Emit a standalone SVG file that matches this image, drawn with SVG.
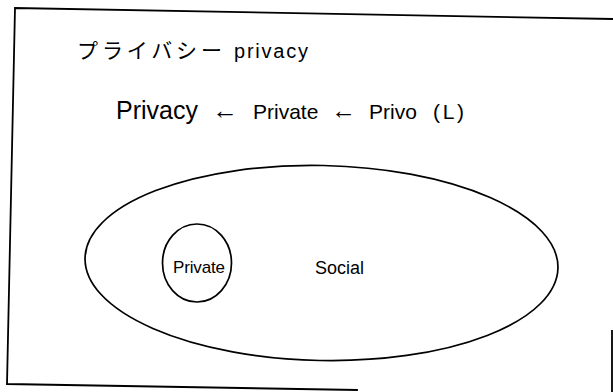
<svg xmlns="http://www.w3.org/2000/svg" width="613" height="392" viewBox="0 0 613 392">
<style>
.frame{stroke:#000;stroke-width:1.8;fill:none;stroke-linecap:square}
.shape{stroke:#000;stroke-width:1.7;fill:none}
.t{font-family:"Liberation Sans",Arial,"Noto Sans CJK JP",sans-serif;fill:#000}
.jp{font-family:"Noto Sans CJK JP","Liberation Sans",sans-serif;fill:#000}
.arr{font-family:"Liberation Sans",Arial,sans-serif;fill:#000;font-size:25px}
</style>
<rect width="613" height="392" fill="#fff"/>
<g id="frame">
<polyline class="frame" points="613,19 15,8 7,384 357,390"/>
<line class="frame" x1="612" y1="331" x2="612" y2="392"/>
</g>
<g id="title">
<text class="jp" x="77" y="58" font-size="21" textLength="145" lengthAdjust="spacing">プライバシー</text>
<text class="t" x="234" y="58" font-size="20" textLength="74" lengthAdjust="spacing">privacy</text>
</g>
<g id="etymology">
<text class="t" x="116" y="119" font-size="25">Privacy</text>
<text class="arr" x="212" y="119" textLength="26" lengthAdjust="spacingAndGlyphs">←</text>
<text class="t" x="253" y="119" font-size="21">Private</text>
<text class="arr" x="331" y="119" textLength="25" lengthAdjust="spacingAndGlyphs">←</text>
<text class="t" x="369" y="119" font-size="21">Privo</text>
<text class="t" x="433" y="119" font-size="21" textLength="31" lengthAdjust="spacing">(L)</text>
</g>
<g id="social">
<ellipse class="shape" cx="321.5" cy="263" rx="236.5" ry="97.5" transform="rotate(1.2 321.5 263)"/>
<text class="t" x="315" y="274" font-size="18">Social</text>
</g>
<g id="private">
<ellipse class="shape" cx="197" cy="263" rx="34.5" ry="39"/>
<text class="t" x="173" y="273" font-size="17" textLength="52" lengthAdjust="spacing">Private</text>
</g>
</svg>
